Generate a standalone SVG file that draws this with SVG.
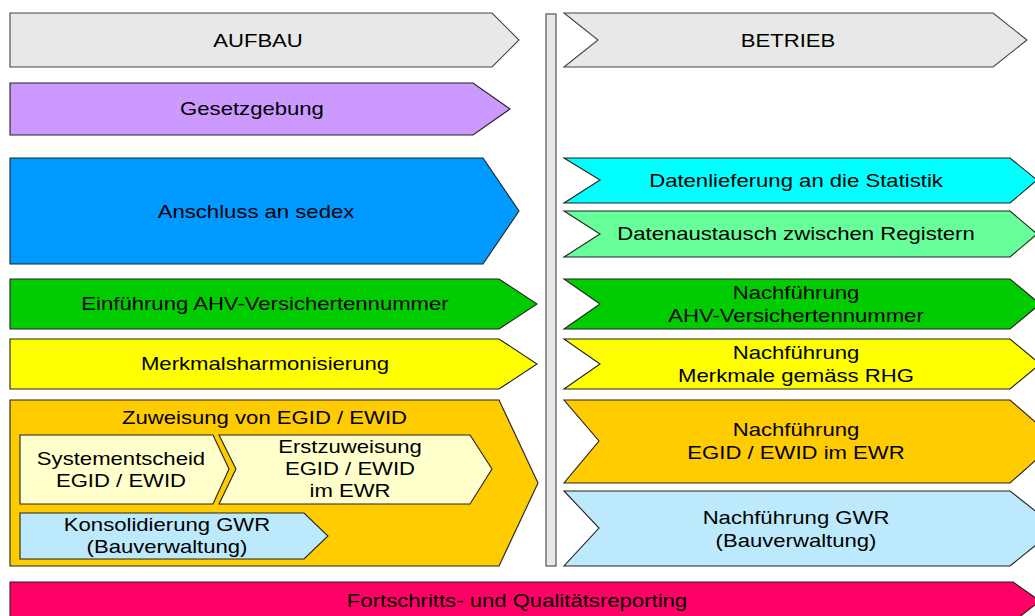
<svg xmlns="http://www.w3.org/2000/svg" width="1035" height="616" viewBox="0 0 1035 616">
<style>
.s{stroke:#222;stroke-width:1.1;stroke-linejoin:miter}
.g{fill:#e8e8e8;stroke:#444}
.t{font-family:"Liberation Sans",Arial,sans-serif;font-size:17.7px;text-anchor:middle;fill:#000}
</style>
<rect width="1035" height="616" fill="#fff"/>
<g id="aufbau"><path class="s g" d="M10,13 H492 L519,40 L492,67 H10 Z"/><text class="t" transform="matrix(1.25 0 0 1 258 47)">AUFBAU</text></g>
<g id="gesetzgebung"><path class="s" fill="#cc99ff" d="M10,83 H473 L510,109 L473,135 H10 Z"/><text class="t" transform="matrix(1.25 0 0 1 252 115)">Gesetzgebung</text></g>
<g id="sedex"><path class="s" fill="#0099ff" d="M10,158 H483 L519,211 L483,264 H10 Z"/><text class="t" transform="matrix(1.25 0 0 1 256 218)">Anschluss an sedex</text></g>
<g id="ahv"><path class="s" fill="#00cc00" d="M10,279 H499 L537,304 L499,329 H10 Z"/><text class="t" transform="matrix(1.25 0 0 1 265 310)">Einführung AHV-Versichertennummer</text></g>
<g id="merkmal"><path class="s" fill="#ffff00" d="M10,339 H499 L537,364 L499,389 H10 Z"/><text class="t" transform="matrix(1.25 0 0 1 265 370)">Merkmalsharmonisierung</text></g>
<g id="zuweisung"><path class="s" fill="#ffcc00" d="M10,400 H499 L538,483 L499,566 H10 Z"/><text class="t" transform="matrix(1.25 0 0 1 264.5 424)">Zuweisung von EGID / EWID</text></g>
<g id="systementscheid"><path class="s" fill="#ffffcc" d="M20,435 H213 L229,469 L213,504 H20 Z"/><text class="t" transform="matrix(1.25 0 0 1 121 465)"><tspan x="0" y="0">Systementscheid</tspan><tspan x="0" y="22">EGID / EWID</tspan></text></g>
<g id="erstzuweisung"><path class="s" fill="#ffffcc" d="M219,435 H470 L492,469 L470,504 H219 L236,469 Z"/><text class="t" transform="matrix(1.25 0 0 1 350 453)"><tspan x="0" y="0">Erstzuweisung</tspan><tspan x="0" y="22">EGID / EWID</tspan><tspan x="0" y="44">im EWR</tspan></text></g>
<g id="konsolidierung"><path class="s" fill="#bde9fd" d="M20,513 H304 L328,536 L304,559 H20 Z"/><text class="t" transform="matrix(1.25 0 0 1 167 531)"><tspan x="0" y="0">Konsolidierung GWR</tspan><tspan x="0" y="22">(Bauverwaltung)</tspan></text></g>
<g id="trenner"><rect class="s g" x="546" y="14" width="10" height="552"/></g>
<g id="betrieb"><path class="s g" d="M564,13 H993 L1027,40 L993,67 H564 L598,40 Z"/><text class="t" transform="matrix(1.25 0 0 1 788 47)">BETRIEB</text></g>
<g id="datenlieferung"><path class="s" fill="#00ffff" d="M564,158 H1010 L1037,180 L1010,203 H564 L600,180 Z"/><text class="t" transform="matrix(1.25 0 0 1 796 187)">Datenlieferung an die Statistik</text></g>
<g id="datenaustausch"><path class="s" fill="#66ff99" d="M564,211 H1010 L1037,234 L1010,257 H564 L600,234 Z"/><text class="t" transform="matrix(1.25 0 0 1 796 240)">Datenaustausch zwischen Registern</text></g>
<g id="n-ahv"><path class="s" fill="#00cc00" d="M564,279 H1010 L1040,304 L1010,329 H564 L600,304 Z"/><text class="t" transform="matrix(1.25 0 0 1 796 299)"><tspan x="0" y="0">Nachführung</tspan><tspan x="0" y="23">AHV-Versichertennummer</tspan></text></g>
<g id="n-merkmale"><path class="s" fill="#ffff00" d="M564,339 H1010 L1040,364 L1010,389 H564 L600,364 Z"/><text class="t" transform="matrix(1.25 0 0 1 796 359)"><tspan x="0" y="0">Nachführung</tspan><tspan x="0" y="23">Merkmale gemäss RHG</tspan></text></g>
<g id="n-egid"><path class="s" fill="#ffcc00" d="M564,400 H1010 L1057,441 L1010,483 H564 L599,441 Z"/><text class="t" transform="matrix(1.25 0 0 1 796 436)"><tspan x="0" y="0">Nachführung</tspan><tspan x="0" y="23">EGID / EWID im EWR</tspan></text></g>
<g id="n-gwr"><path class="s" fill="#bde9fd" d="M564,491 H1010 L1057,528 L1010,566 H564 L599,528 Z"/><text class="t" transform="matrix(1.25 0 0 1 796 524)"><tspan x="0" y="0">Nachführung GWR</tspan><tspan x="0" y="23">(Bauverwaltung)</tspan></text></g>
<g id="reporting"><path class="s" fill="#ff0066" d="M10,582 H1013 L1040,601 L1013,622 H10 Z"/><text class="t" transform="matrix(1.25 0 0 1 517 607)">Fortschritts- und Qualitätsreporting</text></g>
<g id="connectors"></g>
</svg>
